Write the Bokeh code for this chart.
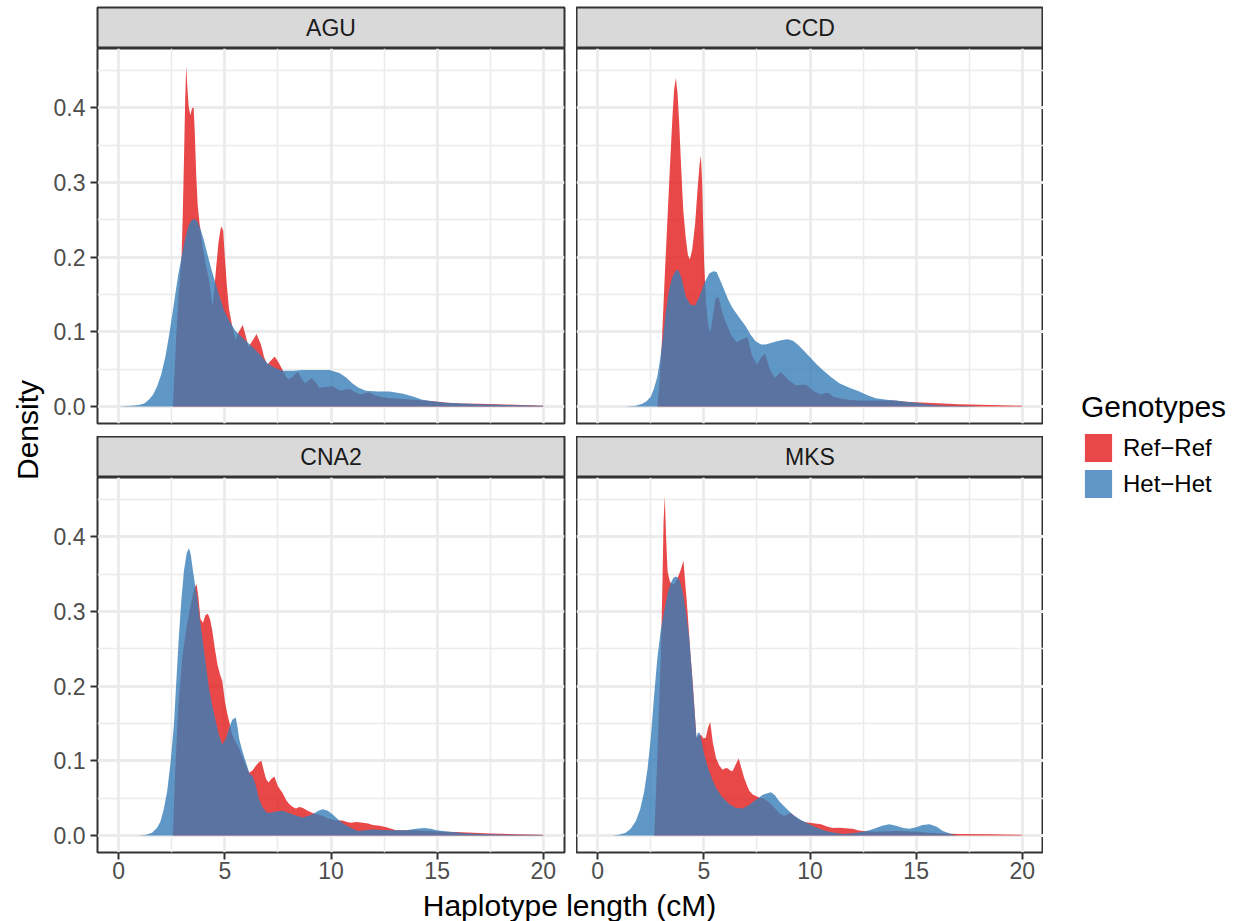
import math
from bokeh.plotting import figure
from bokeh.layouts import row, column
from bokeh.models import (FixedTicker, PrintfTickFormatter, Label, Legend, LegendItem, Range1d)
from bokeh.embed import file_html
from bokeh.resources import INLINE

# ---------------- data ----------------
facets = ["AGU", "CCD", "CNA2", "MKS"]
genotypes = ["Ref\u2212Ref", "Het\u2212Het"]
x_ticks = [0, 5, 10, 15, 20]
x_minor = [2.5, 7.5, 12.5, 17.5]
y_ticks = [0.0, 0.1, 0.2, 0.3, 0.4]
y_minor = [0.05, 0.15, 0.25, 0.35, 0.45]

AGU_ref_x = [2.55, 2.6, 2.7, 2.8, 2.9, 2.96, 3.02, 3.08, 3.13, 3.18, 3.24, 3.3, 3.38, 3.42, 3.48, 3.53, 3.58, 3.65, 3.72,
             3.81, 3.95, 4.1, 4.25, 4.35, 4.41, 4.48, 4.57, 4.7, 4.8, 4.85, 4.92, 5.0, 5.1, 5.2, 5.35, 5.5, 5.66, 5.84,
             5.98, 6.11, 6.3, 6.49, 6.7, 6.85, 7.0, 7.18, 7.35, 7.55, 7.72, 7.87, 8.0, 8.2, 8.43, 8.62, 8.79, 8.95, 9.1,
             9.3, 9.45, 9.75, 10.08, 10.3, 10.47, 10.7, 10.9, 11.15, 11.42, 11.6, 11.8, 12.05, 12.3, 12.8, 13.4, 13.9,
             14.4, 14.8, 15.5, 16.2, 17.0, 17.8, 19.0, 20.0]
AGU_ref_y = [0.0, 0.03, 0.09, 0.14, 0.18, 0.2, 0.26, 0.34, 0.41, 0.456, 0.425, 0.40, 0.39, 0.396, 0.40, 0.40, 0.37, 0.31,
             0.27, 0.245, 0.215, 0.19, 0.17, 0.15, 0.134, 0.15, 0.18, 0.22, 0.238, 0.241, 0.235, 0.2, 0.16, 0.13, 0.107,
             0.089, 0.1, 0.109, 0.095, 0.08, 0.088, 0.097, 0.083, 0.066, 0.056, 0.062, 0.067, 0.058, 0.049, 0.04, 0.036,
             0.04, 0.047, 0.037, 0.031, 0.035, 0.038, 0.031, 0.025, 0.026, 0.027, 0.023, 0.021, 0.023, 0.023, 0.019,
             0.016, 0.018, 0.019, 0.015, 0.013, 0.011, 0.01, 0.009, 0.008, 0.007, 0.005, 0.004, 0.0035, 0.003, 0.002,
             0.001]
AGU_het_x = [0.0, 0.6, 0.95, 1.2, 1.42, 1.62, 1.81, 2.0, 2.2, 2.4, 2.6, 2.8, 2.96, 3.13, 3.3, 3.45, 3.57, 3.7, 3.86, 4.0,
             4.17, 4.4, 4.7, 4.96, 5.2, 5.5, 5.83, 6.1, 6.4, 6.7, 7.0, 7.35, 7.72, 8.2, 8.66, 9.3, 9.92, 10.4, 10.7, 11.0,
             11.3, 11.65, 12.2, 12.75, 13.4, 13.9, 14.3, 14.8, 15.4, 16.2, 17.0, 18.5, 20.0]
AGU_het_y = [0.0, 0.001, 0.002, 0.004, 0.009, 0.016, 0.027, 0.043, 0.067, 0.1, 0.138, 0.176, 0.2, 0.225, 0.243, 0.25,
             0.251, 0.248, 0.237, 0.224, 0.205, 0.18, 0.152, 0.129, 0.115, 0.101, 0.092, 0.085, 0.077, 0.068, 0.058,
             0.052, 0.048, 0.048, 0.049, 0.049, 0.049, 0.045, 0.039, 0.031, 0.025, 0.021, 0.02, 0.02, 0.017, 0.013,
             0.009, 0.007, 0.005, 0.004, 0.003, 0.002, 0.001]

CCD_ref_x = [2.81, 2.9, 3.02, 3.15, 3.29, 3.4, 3.52, 3.6, 3.68, 3.76, 3.84, 3.93, 4.03, 4.15, 4.25, 4.34, 4.45, 4.59,
             4.7, 4.8, 4.86, 4.92, 4.97, 5.02, 5.1, 5.2, 5.3, 5.42, 5.55, 5.69, 5.85, 6.04, 6.3, 6.54, 6.8, 7.06, 7.25,
             7.5, 7.7, 7.89, 8.1, 8.35, 8.5, 8.63, 9.0, 9.34, 9.6, 9.81, 10.2, 10.52, 10.7, 10.9, 11.1, 11.38, 11.8,
             12.33, 13.0, 13.9, 14.7, 15.8, 17.0, 18.5, 20.0]
CCD_ref_y = [0.0, 0.03, 0.085, 0.17, 0.254, 0.32, 0.388, 0.425, 0.44, 0.42, 0.379, 0.32, 0.263, 0.225, 0.203, 0.197,
             0.21, 0.245, 0.29, 0.325, 0.336, 0.3, 0.24, 0.1875, 0.14, 0.11, 0.098, 0.12, 0.145, 0.147, 0.128, 0.112,
             0.095, 0.086, 0.09, 0.093, 0.07, 0.056, 0.066, 0.071, 0.05, 0.038, 0.043, 0.046, 0.035, 0.028, 0.029,
             0.029, 0.02, 0.016, 0.018, 0.018, 0.013, 0.011, 0.009, 0.008, 0.008, 0.008, 0.006, 0.0045, 0.003, 0.002,
             0.001]
CCD_het_x = [1.32, 1.8, 2.1, 2.3, 2.5, 2.65, 2.81, 2.95, 3.08, 3.2, 3.36, 3.5, 3.65, 3.79, 3.95, 4.15, 4.35, 4.58, 4.8,
             5.02, 5.25, 5.45, 5.6, 5.8, 5.96, 6.15, 6.35, 6.65, 6.98, 7.2, 7.45, 7.7, 7.92, 8.15, 8.4, 8.7, 8.95, 9.2,
             9.42, 9.7, 9.97, 10.3, 10.6, 11.0, 11.38, 11.85, 12.33, 12.7, 13.1, 13.6, 14.05, 14.5, 15.0, 15.5, 15.9,
             16.5, 17.5, 18.0]
CCD_het_y = [0.0, 0.001, 0.0035, 0.007, 0.013, 0.024, 0.04, 0.065, 0.094, 0.125, 0.156, 0.172, 0.181, 0.183, 0.172,
             0.147, 0.137, 0.135, 0.148, 0.165, 0.178, 0.181, 0.18, 0.167, 0.156, 0.143, 0.132, 0.12, 0.107, 0.096,
             0.087, 0.083, 0.083, 0.085, 0.087, 0.089, 0.09, 0.088, 0.083, 0.075, 0.067, 0.057, 0.049, 0.039, 0.031,
             0.025, 0.02, 0.015, 0.011, 0.009, 0.008, 0.0065, 0.005, 0.003, 0.002, 0.001, 0.0005, 0.0]

CNA2_ref_x = [2.55, 2.65, 2.8, 3.0, 3.2, 3.4, 3.55, 3.67, 3.75, 3.85, 3.97, 4.08, 4.2, 4.3, 4.41, 4.53, 4.65, 4.78, 4.88,
              5.0, 5.1, 5.2, 5.35, 5.51, 5.67, 5.9, 6.14, 6.3, 6.45, 6.6, 6.72, 6.85, 6.95, 7.06, 7.2, 7.33, 7.5, 7.72,
              7.9, 8.03, 8.2, 8.35, 8.5, 8.66, 8.9, 9.13, 9.4, 9.61, 9.85, 10.08, 10.3, 10.55, 10.75, 10.94, 11.2,
              11.5, 11.75, 11.97, 12.3, 12.6, 13.07, 13.5, 13.86, 14.65, 15.3, 15.9, 16.7, 17.5, 18.7, 20.0]
CNA2_ref_y = [0.0, 0.08, 0.17, 0.24, 0.28, 0.31, 0.33, 0.337, 0.32, 0.29, 0.285, 0.295, 0.297, 0.29, 0.274, 0.25, 0.229,
              0.215, 0.207, 0.18, 0.165, 0.153, 0.135, 0.125, 0.117, 0.1, 0.084, 0.087, 0.093, 0.098, 0.1, 0.085, 0.075,
              0.071, 0.076, 0.079, 0.066, 0.057, 0.047, 0.042, 0.038, 0.036, 0.038, 0.037, 0.033, 0.03, 0.028, 0.026,
              0.023, 0.021, 0.02, 0.02, 0.018, 0.017, 0.018, 0.017, 0.016, 0.014, 0.013, 0.011, 0.007, 0.007, 0.007,
              0.006, 0.005, 0.0045, 0.0035, 0.0027, 0.0018, 0.001]
CNA2_het_x = [0.94, 1.3, 1.57, 1.8, 1.97, 2.12, 2.28, 2.45, 2.6, 2.72, 2.83, 2.95, 3.07, 3.2, 3.31, 3.4, 3.5, 3.6, 3.7,
              3.82, 3.94, 4.1, 4.25, 4.4, 4.57, 4.72, 4.88, 5.05, 5.2, 5.35, 5.51, 5.6, 5.67, 5.78, 5.9, 6.05, 6.17,
              6.3, 6.45, 6.6, 6.77, 6.95, 7.09, 7.4, 7.72, 8.2, 8.66, 9.13, 9.4, 9.61, 9.85, 10.08, 10.35, 10.63,
              10.95, 11.26, 11.6, 11.97, 12.4, 12.76, 13.54, 14.0, 14.4, 14.7, 14.96, 15.6, 16.3, 17.0, 18.6, 20.0]
CNA2_het_y = [0.0, 0.001, 0.0036, 0.01, 0.019, 0.035, 0.059, 0.1, 0.149, 0.21, 0.265, 0.315, 0.354, 0.378, 0.385,
              0.375, 0.354, 0.335, 0.318, 0.29, 0.265, 0.23, 0.198, 0.175, 0.153, 0.135, 0.122, 0.13, 0.144, 0.155,
              0.158, 0.145, 0.13, 0.118, 0.106, 0.093, 0.082, 0.08, 0.068, 0.05, 0.038, 0.031, 0.03, 0.032, 0.033,
              0.028, 0.024, 0.028, 0.033, 0.035, 0.033, 0.028, 0.021, 0.015, 0.01, 0.006, 0.007, 0.008, 0.0075, 0.007,
              0.007, 0.009, 0.01, 0.009, 0.007, 0.005, 0.003, 0.002, 0.001, 0.0005]

MKS_ref_x = [2.66, 2.75, 2.85, 2.97, 3.05, 3.1, 3.16, 3.22, 3.29, 3.4, 3.52, 3.64, 3.76, 3.9, 4.04, 4.12, 4.23, 4.35,
             4.46, 4.56, 4.65, 4.76, 4.86, 4.98, 5.09, 5.2, 5.3, 5.42, 5.57, 5.72, 5.88, 6.0, 6.12, 6.24, 6.35, 6.5,
             6.64, 6.77, 6.9, 7.02, 7.14, 7.3, 7.45, 7.6, 7.77, 7.95, 8.16, 8.35, 8.55, 8.79, 8.95, 9.1, 9.3, 9.5,
             9.75, 9.97, 10.25, 10.52, 10.8, 11.07, 11.3, 11.54, 11.8, 12.01, 12.25, 12.48, 13.1, 13.6, 14.05, 14.5,
             15.0, 15.6, 16.3, 17.0, 18.5, 20.0]
MKS_ref_y = [0.0, 0.06, 0.14, 0.238, 0.34, 0.42, 0.454, 0.40, 0.354, 0.34, 0.336, 0.338, 0.345, 0.355, 0.368, 0.34,
             0.3, 0.25, 0.211, 0.17, 0.131, 0.134, 0.135, 0.13, 0.131, 0.145, 0.152, 0.125, 0.104, 0.094, 0.088, 0.09,
             0.09, 0.087, 0.086, 0.095, 0.103, 0.09, 0.077, 0.068, 0.06, 0.055, 0.053, 0.051, 0.05, 0.047, 0.042,
             0.036, 0.03, 0.026, 0.028, 0.03, 0.025, 0.021, 0.018, 0.017, 0.016, 0.015, 0.012, 0.01, 0.0105, 0.01,
             0.0095, 0.009, 0.007, 0.006, 0.005, 0.0055, 0.006, 0.0055, 0.005, 0.0036, 0.0028, 0.002, 0.0015, 0.001]
MKS_het_x = [0.69, 1.0, 1.32, 1.55, 1.79, 2.0, 2.19, 2.35, 2.5, 2.65, 2.81, 2.97, 3.13, 3.3, 3.44, 3.56, 3.68, 3.8, 3.9,
             4.0, 4.15, 4.31, 4.43, 4.54, 4.65, 4.72, 4.81, 4.9, 5.02, 5.2, 5.4, 5.57, 5.85, 6.19, 6.5, 6.82, 7.1, 7.45,
             7.8, 8.16, 8.35, 8.55, 8.85, 9.18, 9.55, 9.97, 10.35, 10.75, 11.1, 11.54, 12.0, 12.48, 12.8, 13.11, 13.4,
             13.74, 14.05, 14.4, 14.68, 15.0, 15.3, 15.63, 15.95, 16.26, 16.55, 16.8, 17.0]
MKS_het_y = [0.0, 0.001, 0.0036, 0.009, 0.019, 0.035, 0.059, 0.09, 0.131, 0.185, 0.238, 0.275, 0.3, 0.325, 0.338,
             0.345, 0.347, 0.345, 0.338, 0.327, 0.3, 0.265, 0.22, 0.175, 0.131, 0.138, 0.137, 0.125, 0.108, 0.09, 0.075,
             0.064, 0.052, 0.042, 0.037, 0.036, 0.04, 0.048, 0.055, 0.058, 0.054, 0.046, 0.037, 0.028, 0.021, 0.015,
             0.01, 0.006, 0.004, 0.002, 0.003, 0.005, 0.007, 0.01, 0.013, 0.015, 0.013, 0.01, 0.009, 0.011, 0.014,
             0.015, 0.012, 0.006, 0.003, 0.0005, 0.0]

series = {
    "AGU": [(AGU_ref_x, AGU_ref_y), (AGU_het_x, AGU_het_y)],
    "CCD": [(CCD_ref_x, CCD_ref_y), (CCD_het_x, CCD_het_y)],
    "CNA2": [(CNA2_ref_x, CNA2_ref_y), (CNA2_het_x, CNA2_het_y)],
    "MKS": [(MKS_ref_x, MKS_ref_y), (MKS_het_x, MKS_het_y)],
}

# ---------------- style ----------------
FONT = "Liberation Sans"
COLORS = ["#E41A1C", "#377EB8"]
ALPHA = 0.8
XR = (-1.0, 21.0)
YR = (-0.0228, 0.4795)
FW, FH = 467, 375
GAP = 12
TICK_FS = "23px"
STRIP_FS = "23px"
TITLE_FS = "30px"
BORDER = "#333333"


def make_panel(name, show_x, show_y, left, right, bottom):
    p = figure(frame_width=FW, frame_height=FH,
               x_range=Range1d(*XR), y_range=Range1d(*YR),
               x_axis_location="below" if show_x else None,
               y_axis_location="left" if show_y else None,
               min_border_left=left, min_border_right=right,
               min_border_top=0, min_border_bottom=bottom,
               toolbar_location=None, output_backend="svg")
    p.background_fill_color = "white"
    p.border_fill_color = "white"
    p.outline_line_color = BORDER
    p.outline_line_width = 2
    p.xgrid.ticker = FixedTicker(ticks=x_ticks, minor_ticks=x_minor)
    p.ygrid.ticker = FixedTicker(ticks=y_ticks, minor_ticks=y_minor)
    for g in (p.xgrid, p.ygrid):
        g.grid_line_color = "#EBEBEB"
        g.grid_line_width = 2.8
        g.minor_grid_line_color = "#EBEBEB"
        g.minor_grid_line_width = 1.5
    for ax in p.axis:
        ax.axis_line_color = None
        ax.major_tick_line_color = BORDER
        ax.major_tick_line_width = 2
        ax.major_tick_out = 7
        ax.major_tick_in = 0
        ax.minor_tick_line_color = None
        ax.major_label_text_font = FONT
        ax.major_label_text_font_size = TICK_FS
        ax.major_label_text_color = "#4D4D4D"
        ax.major_label_standoff = 5
    if show_x:
        p.xaxis.ticker = FixedTicker(ticks=x_ticks)
        p.xaxis.major_label_standoff = 2
    if show_y:
        p.yaxis.ticker = FixedTicker(ticks=y_ticks)
        p.yaxis.formatter = PrintfTickFormatter(format="%.1f")
    for (xs, ys), col in zip(series[name], COLORS):
        px = list(xs) + [xs[-1], xs[0]]
        py = list(ys) + [0.0, 0.0]
        p.patch(px, py, fill_color=col, fill_alpha=ALPHA, line_color=None)
    return p


def make_strip(label, left, right, top):
    s = figure(frame_width=FW, frame_height=41, x_range=Range1d(0, 1), y_range=Range1d(0, 1),
               x_axis_location=None, y_axis_location=None,
               min_border_left=left, min_border_right=right, min_border_top=top, min_border_bottom=0,
               toolbar_location=None, output_backend="svg")
    s.grid.visible = False
    s.background_fill_color = "#D9D9D9"
    s.border_fill_color = "white"
    s.outline_line_color = BORDER
    s.outline_line_width = 2
    s.add_layout(Label(x=0.5, y=0.5, text=label, text_align="center", text_baseline="middle",
                       text_font=FONT, text_font_size=STRIP_FS, text_color="#1A1A1A"))
    return s


LEFT = 46
BOTTOM_AX = 36
TOP_H = 7 + 41 + FH + 13 + 41 + FH + BOTTOM_AX  # 888
BOT_H = 921 - TOP_H  # 33

sA = make_strip(facets[0], LEFT, GAP, 7)
pA = make_panel(facets[0], False, True, LEFT, GAP, 13)
sC = make_strip(facets[2], LEFT, GAP, 0)
pC = make_panel(facets[2], True, True, LEFT, GAP, BOTTOM_AX)

sB = make_strip(facets[1], 0, 0, 7)
pB = make_panel(facets[1], False, False, 0, 0, 13)
sD = make_strip(facets[3], 0, 0, 0)
pD = make_panel(facets[3], True, False, 0, 0, BOTTOM_AX)

# y-axis title
ylab = figure(width=50, height=TOP_H, x_range=Range1d(0, 50), y_range=Range1d(0, TOP_H),
              x_axis_location=None, y_axis_location=None, min_border=0,
              toolbar_location=None, output_backend="svg")
ylab.grid.visible = False
ylab.outline_line_color = None
ylab.add_layout(Label(x=27, y=TOP_H - 429.5, text="Density", angle=90, angle_units="deg",
                      text_align="center", text_baseline="middle",
                      text_font=FONT, text_font_size=TITLE_FS, text_color="black"))

# legend panel
LW = 1239 - 50 - (LEFT + FW + GAP) - FW
leg = figure(width=LW, height=TOP_H, x_range=Range1d(0, 10), y_range=Range1d(0, 10),
             x_axis_location=None, y_axis_location=None, min_border=0,
             toolbar_location=None, output_backend="svg")
leg.grid.visible = False
leg.outline_line_color = None
rends = []
for col in COLORS:
    # key glyphs only: drawn outside the visible range
    rends.append(leg.patch([-5, -4, -4], [-5, -5, -4], fill_color=col, fill_alpha=ALPHA, line_color=None))
legend = Legend(items=[LegendItem(label=g, renderers=[r]) for g, r in zip(genotypes, rends)],
                title="Genotypes", location=(1080 - 1042, TOP_H - 501),
                title_text_font=FONT, title_text_font_size=TITLE_FS, title_text_color="black",
                title_text_font_style="normal", title_standoff=6,
                label_text_font=FONT, label_text_font_size="24px", label_text_color="black",
                glyph_width=34, glyph_height=35, label_height=35, spacing=1, padding=0, margin=0,
                label_standoff=8, border_line_color=None, background_fill_alpha=0)
leg.add_layout(legend)

# x-axis title
xlab = figure(width=1239, height=BOT_H, x_range=Range1d(0, 1239), y_range=Range1d(0, BOT_H),
              x_axis_location=None, y_axis_location=None, min_border=0,
              toolbar_location=None, output_backend="svg")
xlab.grid.visible = False
xlab.outline_line_color = None
xlab.add_layout(Label(x=569, y=BOT_H / 2.0, text="Haplotype length (cM)", text_align="center",
                      text_baseline="middle", text_font=FONT, text_font_size=TITLE_FS,
                      text_color="black"))

left_col = column(sA, pA, sC, pC, spacing=0)
right_col = column(sB, pB, sD, pD, spacing=0)
top = row(ylab, left_col, right_col, leg, spacing=0)
layout = column(top, xlab, spacing=0)

open("out.html", "w").write(file_html(layout, INLINE))
